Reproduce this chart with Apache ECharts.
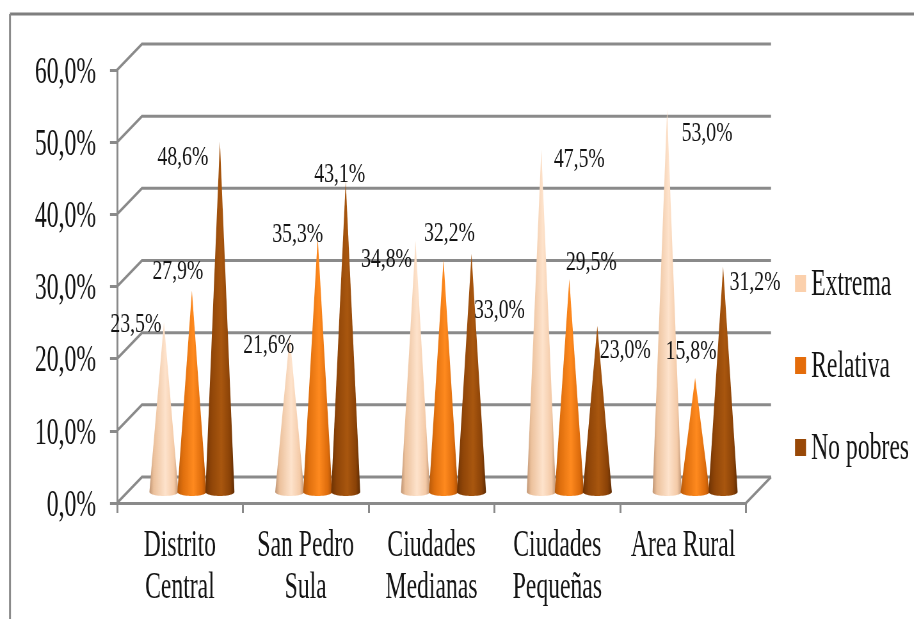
<!DOCTYPE html>
<html><head><meta charset="utf-8">
<style>html,body{margin:0;padding:0;background:#fff;overflow:hidden;width:914px;height:619px}
#c{position:absolute;left:0;top:0;transform-origin:0 0}</style>
<script src="https://cdn.jsdelivr.net/npm/echarts@6/dist/echarts.min.js"></script>
</head><body><div id="c"></div>
<script>
const categories = ['Distrito\nCentral','San Pedro\nSula','Ciudades\nMedianas','Ciudades\nPequeñas','Area Rural'];
const seriesNames = ['Extrema','Relativa','No pobres'];
const extrema = [23.5,21.6,34.8,47.5,53.0];
const relativa = [27.9,35.3,32.2,29.5,15.8];
const noPobres = [48.6,43.1,33.0,23.0,31.2];
const yTicks = [0,10,20,30,40,50,60];

// layout and styling (the source image is a horizontally squeezed picture)
const S = 0.64, W = Math.round(914/S), FONT = '"Liberation Serif","Times New Roman",serif';
const X = v => v/S;
const DX = X(25), DY = 26, LIFT = 11, CONE_W = X(29), CONE_STEP = X(28), GROUP_SHIFT = X(12), BASE_RY = 4;
const GRID_LINE = '#8a8a8a';
const coneStops = [
  [[0,'#bf9473'],[0.15,'#ecc19c'],[0.55,'#fee3cc'],[0.85,'#f4caa7'],[1,'#bf9473']],
  [[0,'#b85a0a'],[0.2,'#e0700e'],[0.55,'#ff8a1f'],[0.85,'#dd6c0c'],[1,'#a94f07']],
  [[0,'#6e3304'],[0.2,'#8f4508'],[0.55,'#a9570f'],[0.85,'#8a4207'],[1,'#5f2c03']]
];
const legendColors = ['#fbd0ac','#e46c0a','#984807'];
// label centre relative to the cone tip, on-screen px
const labelNudge = [
  [[-28,2],[-21,10],[-29,19],[38,10],[40,24]],
  [[-14,-19],[-20,-3],[6,-26],[22,-16],[-4,-26]],
  [[-37,16],[-6,-6],[28,57],[28,25],[32,16]]
];

const el = document.getElementById('c');
el.style.width = W+'px'; el.style.height = '619px'; el.style.transform = 'scaleX('+S+')';
const chart = echarts.init(el, null, {renderer:'canvas', width:W, height:619});
const allValues = [extrema, relativa, noPobres];
const fmt = v => v.toFixed(1).replace('.',',')+'%';

function wallItem(params, api){
  const cs = params.coordSys, y = api.coord([0, api.value(1)])[1];
  const l = cs.x, r = cs.x+cs.width;
  const style = {stroke:GRID_LINE, lineWidth:3, fill:null};
  const kids = [{type:'polyline', shape:{points:[[l,y],[l+DX,y-DY],[r+DX,y-DY]]}, style}];
  if (api.value(1) === 0) kids.push({type:'line', shape:{x1:r,y1:y,x2:r+DX,y2:y-DY}, style});
  return {type:'group', children:kids};
}
function tipOf(api, k, cat, v){
  const p = api.coord([cat, v]);
  return [p[0]+GROUP_SHIFT+(k-1)*CONE_STEP, p[1]-LIFT];
}
function coneItem(k){
  return function(params, api){
    const cat = api.value(0), v = api.value(1);
    const tip = tipOf(api, k, cat, v);
    const by = api.coord([cat, 0])[1]-LIFT;
    const pts = [tip];
    for (let i=0;i<=24;i++){
      const a = Math.PI - Math.PI*i/24;
      pts.push([tip[0]+Math.cos(a)*CONE_W/2, by+Math.sin(a)*BASE_RY]);
    }
    return {type:'polygon', shape:{points:pts},
      style:{fill:new echarts.graphic.LinearGradient(0,0,1,0,coneStops[k].map(s=>({offset:s[0],color:s[1]})))}};
  };
}
function labelItem(params, api){
  const cat = api.value(0), v = api.value(1), k = api.value(2);
  const tip = tipOf(api, k, cat, v), n = labelNudge[k][cat];
  return {type:'text', x:tip[0]+X(n[0]), y:tip[1]+n[1], scaleX:1.1,
    style:{text:fmt(v), align:'center', verticalAlign:'middle',
    fontFamily:FONT, fontSize:28, fill:'#141414'}};
}
const labelData = [];
allValues.forEach((arr,k)=>arr.forEach((v,i)=>labelData.push([i,v,k])));

chart.setOption({
  animation:false, backgroundColor:'#fff',
  textStyle:{fontFamily:FONT},
  graphic:[
    {type:'line', shape:{x1:X(10),y1:14,x2:W,y2:14}, style:{stroke:'#7f7f7f',lineWidth:3}},
    {type:'line', shape:{x1:X(10),y1:14,x2:X(10),y2:619}, style:{stroke:'#8a8a8a',lineWidth:3}}
  ],
  legend:{orient:'vertical', left:X(795), top:267, padding:0, itemGap:45, itemWidth:X(11), itemHeight:17,
    icon:'rect', data:seriesNames.map((n,i)=>({name:n,itemStyle:{color:legendColors[i]}})),
    formatter:n=>'{t|'+n+'}',
    textStyle:{rich:{t:{fontFamily:FONT,fontSize:37,color:'#141414',padding:[4,0,0,3]}}},
    itemStyle:{borderWidth:0}, selectedMode:false},
  grid:{left:X(117), top:70, width:X(629), height:433},
  xAxis:{type:'category', data:categories,
    axisLine:{show:true,lineStyle:{color:GRID_LINE,width:3}},
    axisTick:{show:true,length:10,alignWithLabel:false,lineStyle:{color:GRID_LINE,width:3}},
    axisLabel:{interval:0,fontFamily:FONT,fontSize:37,lineHeight:42,color:'#141414',margin:22},
    splitLine:{show:false}},
  yAxis:{type:'value', min:0, max:60, interval:10,
    axisLine:{show:true,lineStyle:{color:GRID_LINE,width:3}},
    axisTick:{show:true,length:X(7),lineStyle:{color:GRID_LINE,width:3}},
    axisLabel:{formatter:v=>'{t|'+fmt(v)+'}',margin:X(21),
      rich:{t:{fontFamily:FONT,fontSize:37,color:'#141414',padding:[6,0,0,0]}}},
    splitLine:{show:false}},
  series:[
    {type:'custom', name:'Pared', z:1, silent:true, clip:false, renderItem:wallItem, encode:{x:0,y:1},
      data:yTicks.map(t=>[0,t])},
    ...seriesNames.map((n,k)=>({type:'custom', name:n, z:2, clip:false, renderItem:coneItem(k), encode:{x:0,y:1},
      itemStyle:{color:legendColors[k]}, data:allValues[k].map((v,i)=>[i,v])})),
    {type:'custom', name:'Etiquetas', z:5, silent:true, clip:false, renderItem:labelItem, encode:{x:0,y:1}, data:labelData}
  ]
});
</script></body></html>
